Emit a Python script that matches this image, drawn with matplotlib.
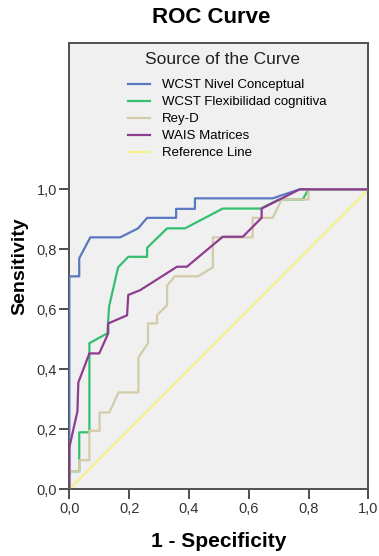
import matplotlib.pyplot as plt
from matplotlib.ticker import FuncFormatter

plt.rcParams['font.family'] = ['Liberation Sans', 'DejaVu Sans']

# ROC points (1 - specificity, sensitivity)
nivel_x = [0, 0, 0.033, 0.033, 0.07, 0.17, 0.23, 0.26, 0.357, 0.357, 0.42, 0.42, 0.68, 0.77, 1.0]
nivel_y = [0, 0.71, 0.71, 0.77, 0.84, 0.84, 0.87, 0.905, 0.905, 0.935, 0.935, 0.97, 0.97, 1.0, 1.0]

flex_x = [0, 0, 0.033, 0.033, 0.067, 0.067, 0.127, 0.133, 0.163, 0.197, 0.26, 0.26, 0.327,
          0.387, 0.513, 0.64, 0.70, 0.78, 0.80, 1.0]
flex_y = [0, 0.06, 0.06, 0.19, 0.19, 0.487, 0.52, 0.61, 0.74, 0.775, 0.775, 0.805, 0.87,
          0.87, 0.936, 0.936, 0.966, 0.966, 1.0, 1.0]

rey_x = [0, 0, 0.033, 0.033, 0.067, 0.067, 0.101, 0.101, 0.134, 0.164, 0.231, 0.231, 0.263,
         0.263, 0.293, 0.293, 0.327, 0.327, 0.353, 0.43, 0.48, 0.48, 0.613, 0.613, 0.68,
         0.71, 0.80, 0.80, 1.0]
rey_y = [0, 0.06, 0.06, 0.097, 0.097, 0.195, 0.195, 0.256, 0.256, 0.323, 0.323, 0.44, 0.487,
         0.553, 0.553, 0.58, 0.614, 0.68, 0.71, 0.71, 0.74, 0.84, 0.84, 0.905, 0.905,
         0.966, 0.966, 1.0, 1.0]

wais_x = [0, 0, 0.027, 0.03, 0.067, 0.1, 0.13, 0.13, 0.193, 0.197, 0.237, 0.36, 0.393,
          0.513, 0.58, 0.643, 0.643, 0.703, 0.77, 1.0]
wais_y = [0, 0.14, 0.26, 0.356, 0.453, 0.453, 0.52, 0.553, 0.58, 0.648, 0.664, 0.742, 0.742,
          0.842, 0.842, 0.905, 0.936, 0.966, 1.0, 1.0]

ref_x = [0, 1]
ref_y = [0, 1]

ticks = [0, 0.2, 0.4, 0.6, 0.8, 1.0]

fig = plt.figure(figsize=(3.79, 5.56), dpi=100)
ax = fig.add_axes([0.183, 0.12, 0.789, 0.8027])
ax.set_facecolor('#f0f0f0')

lw = 1.6
ax.plot(ref_x, ref_y, color='#f5f08a', lw=lw, label='Reference Line', zorder=2)
ax.plot(nivel_x, nivel_y, color='#5a78c0', lw=lw, label='WCST Nivel Conceptual', zorder=3)
ax.plot(flex_x, flex_y, color='#34c06e', lw=lw, label='WCST Flexibilidad cognitiva', zorder=3)
ax.plot(rey_x, rey_y, color='#d3cca8', lw=lw, label='Rey-D', zorder=3)
ax.plot(wais_x, wais_y, color='#8e3c90', lw=lw, label='WAIS Matrices', zorder=4)

ax.set_xlim(0, 1)
ax.set_ylim(0, 1.488)
ax.set_xticks(ticks)
ax.set_yticks(ticks)
fmt = FuncFormatter(lambda v, p: f'{v:.1f}'.replace('.', ','))
ax.xaxis.set_major_formatter(fmt)
ax.yaxis.set_major_formatter(fmt)
ax.tick_params(length=7, width=1.3, color='#404040', labelsize=10.5, labelcolor='#333333', pad=2)
for s in ax.spines.values():
    s.set_color('#505050')
    s.set_linewidth(1.4)

ax.set_xlabel('1 - Specificity', fontsize=15, fontweight='bold', labelpad=12)
ax.set_ylabel('Sensitivity', fontsize=14, fontweight='bold', labelpad=6)
fig.text(0.557, 0.969, 'ROC Curve', fontsize=16, fontweight='bold', ha='center', va='center')

# legend sits inside the plot area, title placed separately
ax.text(0.511, 0.964, 'Source of the Curve', transform=ax.transAxes, fontsize=12.5,
        ha='center', va='center', color='#222222')
handles, labels = ax.get_legend_handles_labels()
order = [1, 2, 3, 4, 0]
leg = ax.legend([handles[i] for i in order], [labels[i] for i in order],
                loc='upper left', bbox_to_anchor=(0.196, 0.919), frameon=False,
                fontsize=9.5, handlelength=1.7, labelspacing=0.36, handletextpad=0.9,
                borderpad=0, borderaxespad=0)

fig.savefig('out.png', dpi=100, facecolor='white')
